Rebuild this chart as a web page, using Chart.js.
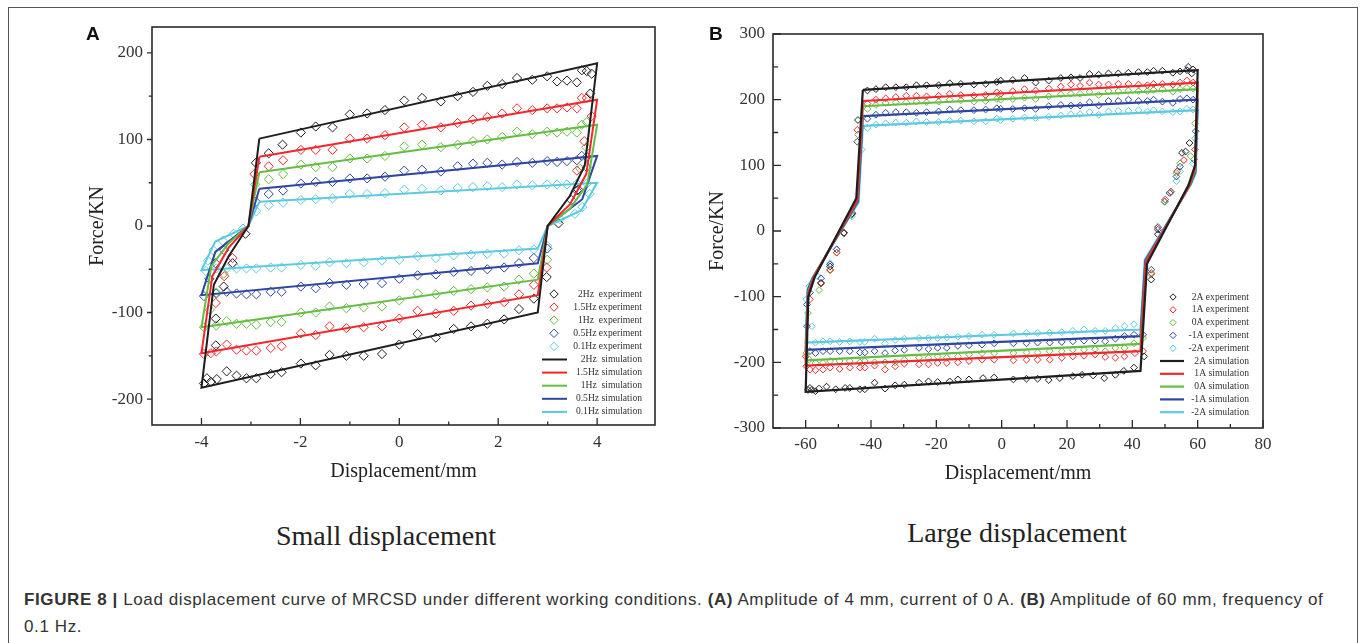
<!DOCTYPE html>
<html>
<head>
<meta charset="utf-8">
<script src="https://cdn.jsdelivr.net/npm/chart.js@4.4.1/dist/chart.umd.min.js"></script>
<style>
body { margin: 0; background: #fff; width: 1360px; height: 643px; overflow: hidden; position: relative; font-family: 'Liberation Serif', serif; }
#frame { position: absolute; left: 8px; top: 7px; width: 1348px; height: 700px; border: 1px solid #555; }
canvas { position: absolute; top: 0; }
#cA { left: 0; }
#cB { left: 690px; }
.panel { position: absolute; top: 23px; font: bold 19px 'Liberation Sans', sans-serif; color: #111; }
.sub { position: absolute; font-size: 28px; line-height: 28px; color: #222; transform: translateX(-50%); white-space: nowrap; }
#cap { position: absolute; left: 24px; top: 586px; font: 17px/27px 'Liberation Sans', sans-serif; letter-spacing: 0.6px; color: #333; white-space: nowrap; }
</style>
</head>
<body>
<div id="frame"></div>
<canvas id="cA" width="680" height="490"></canvas>
<canvas id="cB" width="670" height="490"></canvas>
<div class="panel" style="left:86px">A</div>
<div class="panel" style="left:709px">B</div>
<div class="sub" style="left:386px;top:522px">Small displacement</div>
<div class="sub" style="left:1017px;top:519px">Large displacement</div>
<div id="cap"><b>FIGURE 8 |</b> Load displacement curve of MRCSD under different working conditions. <b>(A)</b> Amplitude of 4 mm, current of 0 A. <b>(B)</b> Amplitude of 60 mm, frequency of<br>0.1 Hz.</div>
<script>
// colori delle serie
const colori = ['#1e1e1e', '#f0282d', '#66bd45', '#2f46a0', '#5cc9e0'];

// ---- Grafico A: piccolo spostamento ----
const legendaEspA = ['2Hz  experiment', '1.5Hz experiment', '1Hz  experiment', '0.5Hz experiment', '0.1Hz experiment'];
const legendaSimA = ['2Hz  simulation', '1.5Hz simulation', '1Hz  simulation', '0.5Hz simulation', '0.1Hz simulation'];
const tickXA = [-4, -2, 0, 2, 4];
const tickXAminori = [-3, -1, 1, 3];
const tickYA = [-200, -100, 0, 100, 200];
const tickYAminori = [-150, -50, 50, 150];

const espA2Hz = [[-2.9,73],[-2.64,84],[-2.36,94],[-1.99,108],[-1.69,115],[-1.35,114],[-1.0,129],[-0.65,130],[-0.29,134],[0.1,145],[0.46,148],[0.84,144],[1.18,150],[1.49,155],[1.78,162],[2.08,164],[2.38,171],[2.69,169],[2.99,173],[3.19,167],[3.39,168],[3.59,166],[3.69,180],[3.79,179],[3.89,176],
  [3.86,153],[3.62,42],[3.22,3],
  [2.98,-59],[2.72,-84],[2.42,-96],[2.12,-108],[1.78,-113],[1.45,-116],[1.10,-119],[0.74,-129],[0.37,-125],[0.0,-137],[-0.35,-148],[-0.72,-150],[-1.07,-150],[-1.41,-149],[-1.69,-161],[-1.99,-159],[-2.38,-169],[-2.6,-171],[-2.89,-176],[-3.09,-176],[-3.29,-173],[-3.49,-168],[-3.69,-177],[-3.81,-180],[-3.89,-176],[-3.95,-182],
  [-3.71,-138],[-3.71,-107],[-3.55,-70],[-3.37,-43],[-3.11,-9]];
const espA15Hz = [[-2.93,60],[-2.64,69],[-2.35,76],[-1.99,88],[-1.69,88],[-1.35,88],[-1.0,101],[-0.65,101],[-0.29,105],[0.1,114],[0.46,117],[0.84,114],[1.18,119],[1.49,123],[1.78,126],[2.08,130],[2.38,136],[2.69,134],[2.99,136],[3.19,136],[3.39,137],[3.59,136],[3.69,148],[3.79,148],[3.89,127],
  [3.74,98],[3.59,64],
  [2.98,-48],[2.72,-68],[2.42,-79],[2.12,-88],[1.78,-90],[1.45,-92],[1.10,-98],[0.74,-101],[0.37,-98],[0.0,-107],[-0.35,-116],[-0.72,-117],[-1.07,-118],[-1.41,-116],[-1.69,-126],[-1.99,-124],[-2.38,-139],[-2.6,-141],[-2.89,-144],[-3.09,-144],[-3.29,-143],[-3.49,-137],[-3.7,-145],[-3.81,-147],[-3.95,-148],
  [-3.71,-89],[-3.54,-58],[-3.37,-37]];
const espA1Hz = [[-2.91,48],[-2.64,54],[-2.35,60],[-1.99,71],[-1.69,68],[-1.35,68],[-1.0,78],[-0.65,78],[-0.29,81],[0.1,92],[0.46,94],[0.84,91],[1.18,94],[1.49,98],[1.78,100],[2.08,103],[2.38,109],[2.69,106],[2.99,109],[3.19,108],[3.39,109],[3.59,108],[3.69,117],[3.79,120],
  [3.78,91],[3.66,66],
  [2.99,-39],[2.72,-55],[2.42,-62],[2.12,-70],[1.78,-71],[1.45,-73],[1.10,-75],[0.74,-79],[0.37,-78],[0.0,-86],[-0.35,-93],[-0.72,-94],[-1.07,-95],[-1.41,-93],[-1.69,-100],[-1.99,-100],[-2.38,-111],[-2.6,-111],[-2.89,-114],[-3.09,-113],[-3.29,-113],[-3.49,-110],[-3.7,-115],[-3.95,-117],
  [-3.83,-97],[-3.7,-77],[-3.55,-55]];
const espA05Hz = [[-2.9,28],[-2.64,37],[-2.35,41],[-1.99,49],[-1.69,51],[-1.35,51],[-1.0,55],[-0.65,55],[-0.29,57],[0.1,64],[0.46,65],[0.84,63],[1.18,69],[1.49,72],[1.78,73],[2.08,71],[2.38,74],[2.69,73],[2.99,75],[3.19,74],[3.39,75],[3.59,76],[3.69,81],[3.79,80],
  [3.79,68],[3.59,41],[3.48,30],
  [2.99,-26],[2.72,-37],[2.42,-43],[2.12,-48],[1.78,-50],[1.45,-52],[1.10,-53],[0.74,-56],[0.37,-57],[0.0,-61],[-0.35,-66],[-0.72,-67],[-1.07,-68],[-1.41,-66],[-1.69,-72],[-1.99,-70],[-2.38,-76],[-2.6,-76],[-2.89,-79],[-3.09,-79],[-3.29,-78],[-3.49,-76],[-3.7,-78],[-3.95,-81],
  [-3.84,-61],[-3.72,-43],[-3.54,-28]];
const espA01Hz = [[-2.89,17],[-2.64,24],[-2.35,27],[-1.99,30],[-1.69,31],[-1.35,32],[-1.0,37],[-0.65,37],[-0.29,38],[0.1,42],[0.46,43],[0.84,41],[1.18,44],[1.49,45],[1.78,46],[2.08,45],[2.38,48],[2.69,47],[2.99,48],[3.19,48],[3.39,48],[3.59,49],[3.79,49],
  [3.85,37],[3.7,22],[3.55,14],[3.25,8],
  [2.99,-23],[2.72,-27],[2.42,-28],[2.12,-32],[1.78,-32],[1.45,-33],[1.10,-34],[0.74,-37],[0.37,-35],[0.0,-39],[-0.35,-40],[-0.72,-42],[-1.07,-43],[-1.41,-42],[-1.69,-46],[-1.99,-45],[-2.38,-48],[-2.6,-48],[-2.89,-49],[-3.09,-49],[-3.29,-49],[-3.49,-49],[-3.7,-49],[-3.91,-52],
  [-3.87,-40],[-3.76,-28],[-3.57,-17],[-3.35,-9],[-3.16,-3]];

const simA2Hz = [[-2.83,101],[4,188],[3.75,70],[3.45,35],[3.0,0],[2.8,-100],[-4,-187],[-3.75,-68],[-3.45,-35],[-3.05,0],[-2.83,101]];
const simA15Hz = [[-2.83,80],[4,146],[3.78,60],[3.45,25],[3.0,0],[2.8,-80],[-4,-147],[-3.78,-58],[-3.45,-25],[-3.05,0],[-2.83,80]];
const simA1Hz = [[-2.83,62],[4,117],[3.8,48],[3.45,20],[3.0,0],[2.8,-62],[-4,-117],[-3.8,-46],[-3.45,-20],[-3.05,0],[-2.83,62]];
const simA05Hz = [[-2.83,43],[4,81],[3.7,31],[3.0,0],[2.8,-43],[-4,-80],[-3.72,-30],[-3.05,0],[-2.83,43]];
const simA01Hz = [[-2.83,28],[4,50],[3.68,18],[3.0,0],[2.8,-26],[-4,-51],[-3.72,-18],[-3.05,0],[-2.83,28]];

// ---- Grafico B: grande spostamento ----
const legendaEspB = ['2A experiment', '1A experiment', '0A experiment', '-1A experiment', '-2A experiment'];
const legendaSimB = ['2A simulation', '1A simulation', '0A simulation', '-1A simulation', '-2A simulation'];
const tickXB = [-60, -40, -20, 0, 20, 40, 60, 80];
const tickXBminori = [-50, -30, -10, 10, 30, 50, 70];
const tickYB = [-300, -200, -100, 0, 100, 200, 300];
const tickYBminori = [-250, -150, -50, 50, 150, 250];

const espB2A = [[-41.1,214],[-38.5,216],[-35.5,219],[-32.4,219],[-29.2,219],[-26.1,222],[-23,222],[-19.3,222],[-15.9,225],[-12.5,224],[-8.5,223],[-4.9,224],[-1.5,227],[-0.3,229],[3.4,230],[7,233],[10.4,226],[14.4,229],[18.1,233],[21.2,234],[24,233],[26.9,239],[29.7,238],[32.7,240],[35.7,240],[38.8,241],[41.9,242],[44.6,242],[46.5,244],[49.2,244],[52.4,241],[54.6,243],[56.7,245],[57.1,250],[58.6,246],[58.2,240],
  [57.5,134],[56.3,121],[55.2,119],[47.8,-5],[45.8,-74],[43.6,-191],[40.5,-208],
  [37.4,-213],[34.8,-219],[31.4,-224],[28,-220],[24.6,-219],[21.8,-221],[17.8,-224],[14.4,-227],[11,-225],[7.6,-225],[3.6,-226],[-2.3,-223],[-5.7,-224],[-10,-226],[-13.4,-226],[-15.9,-229],[-19.6,-230],[-22.4,-229],[-25.3,-231],[-29.8,-234],[-32.6,-235],[-35.7,-240],[-38.9,-231],[-41.9,-241],[-43.4,-241],[-46.5,-239],[-47.9,-239],[-50.8,-241],[-53.6,-237],[-55.9,-240],[-57,-244],[-58.1,-242],[-58.7,-239],[-59.3,-242],
  [-55.3,-79],[-52.5,-54],[-48.3,-3],[-45.7,27],[-44,169]];
const espB1A = [[-41.1,194],[-38.5,200],[-35.5,202],[-32.4,204],[-29.2,206],[-26.1,206],[-23,205],[-19.3,206],[-15.9,209],[-12.5,207],[-8.5,206],[-4.9,207],[-1.5,211],[-0.3,209],[3.4,213],[7,216],[10.4,214],[14.4,217],[18.1,220],[21.2,223],[24,221],[26.9,226],[29.7,223],[32.7,223],[35.7,224],[38.8,224],[41.9,223],[44.6,222],[46.5,224],[49.2,224],[52.4,223],[54.6,226],[56.7,229],[58.6,226],
  [59.2,124],[55.8,108],[53.7,91],[51.8,60],[50.1,48],[47.8,5],[45.8,-64],
  [43.3,-183],[40.8,-186],[37.6,-191],[34.8,-193],[31.7,-192],[28.6,-188],[25.2,-190],[21.8,-191],[18.4,-193],[14.7,-196],[11,-196],[7.6,-196],[3.6,-197],[-2.3,-196],[-6,-196],[-10,-198],[-13.4,-200],[-16.8,-201],[-19.6,-201],[-22.4,-203],[-25.3,-203],[-29.8,-202],[-32.6,-206],[-35.7,-211],[-38.9,-205],[-41.9,-208],[-43.4,-208],[-46.5,-208],[-49.6,-210],[-52.5,-208],[-54.7,-211],[-57,-212],[-58.7,-211],[-59.8,-206],[-60,-191],
  [-58.7,-104],[-55.3,-80],[-52.5,-59],[-50.5,-33],[-48.3,-3],[-45.9,26],[-44.2,154]];
const espB0A = [[-41.1,186],[-38.5,192],[-35.5,195],[-32.4,196],[-29.2,196],[-26.1,197],[-23,196],[-19.3,197],[-15.9,200],[-12.5,199],[-8.5,197],[-4.9,198],[-1.5,201],[-0.3,200],[3.4,201],[7,203],[10.4,201],[14.4,205],[18.1,208],[21.2,209],[24,209],[26.9,212],[29.7,207],[32.7,213],[35.7,213],[38.8,214],[41.9,213],[44.6,213],[46.5,215],[49.2,216],[52.4,212],[54.6,216],[56.7,218],[58.6,217],
  [59.2,164],[57.8,114],[54.6,103],[53.5,88],[51.8,60],[49.9,45],[47.8,5],[45.8,-66],
  [43.3,-163],[40.5,-171],[37.6,-178],[34.8,-178],[31.7,-183],[28.6,-180],[25.2,-181],[21.8,-181],[18.4,-183],[14.7,-183],[11,-185],[7.6,-185],[3.6,-186],[-2.3,-186],[-6,-186],[-10,-188],[-13.4,-191],[-16.8,-193],[-19.6,-191],[-22.4,-193],[-25.3,-193],[-29.8,-196],[-32.6,-200],[-35.7,-200],[-38.9,-200],[-41.9,-198],[-43.4,-200],[-46.5,-198],[-49.6,-198],[-52.5,-198],[-54.7,-201],[-57,-201],[-58.9,-196],[-59.8,-186],
  [-59.3,-125],[-55.9,-90],[-52.5,-60],[-50.5,-33],[-48.3,-3],[-45.9,25],[-44,147]];
const espBm1A = [[-41.1,171],[-38.5,177],[-35.5,180],[-32.4,181],[-29.2,181],[-26.1,180],[-23,181],[-19.3,182],[-15.9,185],[-12.5,184],[-8.5,184],[-4.9,185],[-1.5,187],[-0.3,186],[3.4,186],[7,187],[10.4,186],[14.4,190],[18.1,192],[21.2,191],[24,191],[26.9,196],[29.7,191],[32.7,198],[35.7,198],[38.8,200],[41.9,198],[44.6,198],[46.5,200],[49.2,197],[52.4,195],[54.6,201],[56.7,202],[58.6,200],
  [59.4,152],[58.9,109],[54.6,98],[53.5,83],[51.4,58],[49.9,45],[47.8,2],[45.8,-59],
  [43.3,-158],[40.5,-158],[37.6,-160],[34.8,-164],[31.7,-168],[28.6,-167],[25.2,-167],[21.8,-168],[18.4,-169],[14.7,-170],[11,-170],[7.6,-171],[3.6,-171],[-2.3,-171],[-6,-173],[-10,-174],[-13.4,-175],[-16.8,-178],[-19.6,-178],[-22.4,-180],[-25.3,-178],[-29.8,-181],[-32.6,-182],[-35.7,-186],[-38.9,-183],[-41.9,-185],[-43.4,-185],[-46.5,-183],[-49.6,-183],[-52.5,-183],[-54.7,-183],[-57,-186],[-58.7,-183],[-59.6,-145],[-59.6,-112],
  [-58.7,-94],[-55.3,-72],[-52.5,-51],[-50.5,-28],[-48.3,-3],[-45.9,25],[-44.2,136]];
const espBm2A = [[-41.1,157],[-38.5,162],[-35.5,164],[-32.4,165],[-29.2,165],[-26.1,167],[-23,166],[-19.3,166],[-15.9,168],[-12.5,168],[-8.5,167],[-4.9,167],[-1.5,171],[-0.3,169],[3.4,171],[7,173],[10.4,172],[14.4,174],[18.1,176],[21.2,178],[24,178],[26.9,181],[29.7,177],[32.7,182],[35.7,183],[38.8,183],[41.9,184],[44.6,182],[46.5,184],[49.2,182],[52.4,181],[54.6,182],[56.7,186],[58.6,185],
  [59.2,141],[58.6,103],[54.6,91],[53.5,76],[51.8,58],[49.9,44],[47.8,7],
  [40.5,-142],[37.6,-145],[34.8,-148],[31.7,-152],[28.6,-152],[25.2,-150],[21.8,-152],[18.4,-154],[14.7,-155],[11,-155],[7.6,-155],[3.6,-156],[-2.3,-158],[-6,-158],[-10,-160],[-13.4,-161],[-16.8,-162],[-19.6,-163],[-22.4,-163],[-25.3,-163],[-29.8,-164],[-32.6,-166],[-35.7,-171],[-38.9,-164],[-41.9,-169],[-43.4,-169],[-46.5,-168],[-49.6,-169],[-52.5,-168],[-54.7,-168],[-57,-170],[-58.1,-145],[-59.8,-104],
  [-58.9,-84],[-56.4,-69],[-52.5,-49],[-50.5,-28],[-48.3,-3],[-45.9,22],[-42.8,124]];

const simB2A = [[-42.5,215],[60,245],[59.2,100],[57.2,70],[44.5,-50],[42.5,-213],[-60,-245],[-59.2,-100],[-57.2,-70],[-44.5,50],[-42.5,215]];
const simB1A = [[-42.5,198],[60,226],[59.2,95],[57.5,70],[44.2,-47],[42.5,-183],[-60,-205],[-59.2,-95],[-57.5,-70],[-44.2,47],[-42.5,198]];
const simB0A = [[-42.5,190],[60,216],[59.2,92],[57.6,70],[44.2,-46],[42.5,-172],[-60,-197],[-59.2,-92],[-57.6,-70],[-44.2,46],[-42.5,190]];
const simBm1A = [[-42.5,175],[60,200],[59.3,90],[57.8,71],[44,-45],[42.5,-160],[-60,-181],[-59.3,-90],[-57.8,-71],[-44,45],[-42.5,175]];
const simBm2A = [[-42.5,160],[60,184],[59.4,88],[58,72],[43.8,-44],[42.5,-150],[-60,-170],[-59.4,-88],[-58,-72],[-43.8,44],[-42.5,160]];

const fontSerif = 'Liberation Serif';

function punti(coppie) {
    return coppie.map(p => ({ x: p[0], y: p[1] }));
}

function datasetEsp(label, coppie, colore, raggio) {
    return {
        label: label,
        data: punti(coppie),
        showLine: false,
        pointStyle: 'rectRot',
        pointRadius: raggio,
        pointBorderWidth: 1,
        pointBorderColor: colore,
        pointBackgroundColor: 'rgba(0,0,0,0)',
        borderColor: colore,
        order: 1
    };
}

function datasetSim(label, coppie, colore, spessore) {
    return {
        label: label,
        data: punti(coppie),
        showLine: true,
        borderColor: colore,
        borderWidth: spessore,
        pointRadius: 0,
        tension: 0,
        fill: false,
        order: 0
    };
}

// cornice del grafico e tacche degli assi
const cornice = {
    id: 'cornice',
    afterDatasetsDraw(chart, args, o) {
        const { ctx, chartArea: a, scales: { x, y } } = chart;
        ctx.save();
        ctx.strokeStyle = '#2a2a2a';
        ctx.lineWidth = o.spessore;
        ctx.strokeRect(a.left, a.top, a.right - a.left, a.bottom - a.top);
        ctx.lineWidth = 1.3;
        ctx.beginPath();
        o.xMaggiori.forEach(v => { const px = x.getPixelForValue(v); ctx.moveTo(px, a.bottom); ctx.lineTo(px, a.bottom - o.xLung); });
        o.xMinori.forEach(v => { const px = x.getPixelForValue(v); ctx.moveTo(px, a.bottom); ctx.lineTo(px, a.bottom - o.xLung / 2); });
        o.yMaggiori.forEach(v => { const py = y.getPixelForValue(v); ctx.moveTo(a.left, py); ctx.lineTo(a.left + o.yLung, py); });
        o.yMinori.forEach(v => { const py = y.getPixelForValue(v); ctx.moveTo(a.left, py); ctx.lineTo(a.left + o.yLung * 0.65, py); });
        ctx.stroke();
        ctx.restore();
    }
};

// legenda dentro l'area del grafico, in basso a destra
const legendaInterna = {
    id: 'legendaInterna',
    afterDraw(chart, args, o) {
        const { ctx, chartArea: a } = chart;
        ctx.save();
        ctx.font = o.font;
        ctx.textAlign = 'right';
        ctx.textBaseline = 'middle';
        chart.data.datasets.forEach((ds, i) => {
            const yy = a.bottom - o.dalBasso + i * o.passo;
            ctx.strokeStyle = ds.borderColor;
            if (ds.showLine) {
                ctx.lineWidth = ds.borderWidth;
                ctx.beginPath();
                ctx.moveTo(a.right - o.lineaDa, yy);
                ctx.lineTo(a.right - o.lineaA, yy);
                ctx.stroke();
            } else {
                ctx.lineWidth = 1;
                const cx = a.right - o.marcatore, r = o.raggio;
                ctx.beginPath();
                ctx.moveTo(cx, yy - r); ctx.lineTo(cx + r, yy); ctx.lineTo(cx, yy + r); ctx.lineTo(cx - r, yy);
                ctx.closePath();
                ctx.stroke();
            }
            ctx.fillStyle = '#333';
            ctx.fillText(ds.label, a.right - o.testo, yy);
        });
        ctx.restore();
    }
};

function scalaLineare(min, max, tacche, dim, padTick, titolo, padTitolo) {
    return {
        type: 'linear',
        min: min,
        max: max,
        afterBuildTicks: s => { s.ticks = tacche.map(v => ({ value: v })); },
        afterFit: s => { if (s.isHorizontal()) s.height = dim; else s.width = dim; },
        grid: { display: false, drawTicks: false },
        border: { display: false },
        ticks: { padding: padTick, color: '#333', font: { family: fontSerif, size: 17 } },
        title: { display: true, text: titolo, color: '#222', font: { family: fontSerif, size: 20 }, padding: padTitolo }
    };
}

const datasetsA = [espA2Hz, espA15Hz, espA1Hz, espA05Hz, espA01Hz].map((d, i) => datasetEsp(legendaEspA[i], d, colori[i], 4.6))
    .concat([simA2Hz, simA15Hz, simA1Hz, simA05Hz, simA01Hz].map((d, i) => datasetSim(legendaSimA[i], d, colori[i], 2)));

new Chart(document.getElementById('cA'), {
    type: 'scatter',
    data: { datasets: datasetsA },
    plugins: [cornice, legendaInterna],
    options: {
        responsive: false,
        animation: false,
        layout: { padding: { top: 27, right: 25, left: 0, bottom: 0 } },
        plugins: {
            legend: { display: false },
            tooltip: { enabled: false },
            cornice: { spessore: 1.6, xMaggiori: tickXA, xMinori: tickXAminori, xLung: 7, yMaggiori: tickYA, yMinori: tickYAminori, yLung: -5 },
            legendaInterna: { font: '9.6px "Liberation Serif"', dalBasso: 131, passo: 13.1, lineaDa: 113, lineaA: 88, marcatore: 101, raggio: 4.2, testo: 13 }
        },
        scales: {
            x: scalaLineare(-5, 5.17, tickXA, 65, 7, 'Displacement/mm', { top: 0, bottom: 6 }),
            y: scalaLineare(-230, 230, tickYA, 152, 9, 'Force/KN', { top: 86, bottom: 0 })
        }
    }
});

const datasetsB = [espB2A, espB1A, espB0A, espBm1A, espBm2A].map((d, i) => datasetEsp(legendaEspB[i], d, colori[i], 3.4))
    .concat([simB2A, simB1A, simB0A, simBm1A, simBm2A].map((d, i) => datasetSim(legendaSimB[i], d, colori[i], 2.2)));

new Chart(document.getElementById('cB'), {
    type: 'scatter',
    data: { datasets: datasetsB },
    plugins: [cornice, legendaInterna],
    options: {
        responsive: false,
        animation: false,
        layout: { padding: { top: 34, right: 97, left: 0, bottom: 0 } },
        plugins: {
            legend: { display: false },
            tooltip: { enabled: false },
            cornice: { spessore: 1.6, xMaggiori: tickXB, xMinori: tickXBminori, xLung: 8, yMaggiori: tickYB, yMinori: tickYBminori, yLung: 8 },
            legendaInterna: { font: '9.6px "Liberation Serif"', dalBasso: 131, passo: 12.8, lineaDa: 103, lineaA: 79, marcatore: 90, raggio: 3.2, testo: 14 }
        },
        scales: {
            x: scalaLineare(-70, 80, tickXB, 62, 6, 'Displacement/mm', { top: 0, bottom: 4 }),
            y: scalaLineare(-300, 300, tickYB, 83, 8, 'Force/KN', { top: 16, bottom: 0 })
        }
    }
});
</script>
</body>
</html>
